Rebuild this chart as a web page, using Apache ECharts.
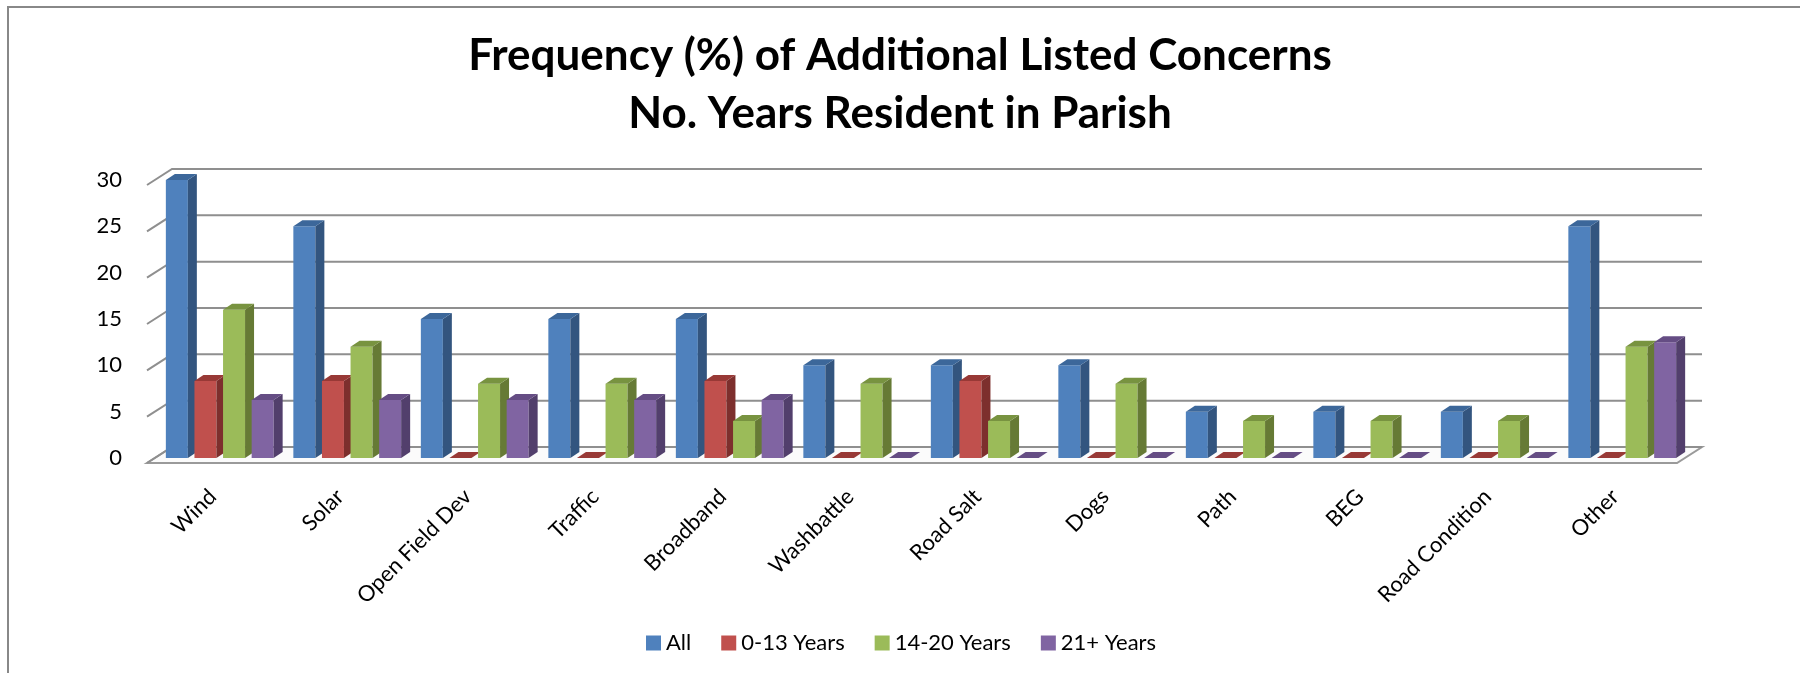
<!DOCTYPE html>
<html>
<head>
<meta charset="utf-8">
<script src="https://cdn.jsdelivr.net/npm/echarts@6/dist/echarts.min.js"></script>
<style>
  html, body { margin: 0; padding: 0; background: #fff; }
  #chart { width: 1800px; height: 673px; }
</style>
</head>
<body>
<div id="chart"></div>
<script>
var categories = ['Wind', 'Solar', 'Open Field Dev', 'Traffic', 'Broadband', 'Washbattle',
  'Road Salt', 'Dogs', 'Path', 'BEG', 'Road Condition', 'Other'];
var seriesNames = ['All', '0-13 Years', '14-20 Years', '21+ Years'];
var allValues = [30, 25, 15, 15, 15, 10, 10, 10, 5, 5, 5, 25];
var years0to13 = [8.3, 8.3, 0, 0, 8.3, 0, 8.3, 0, 0, 0, 0, 0];
var years14to20 = [16, 12, 8, 8, 4, 8, 4, 8, 4, 4, 4, 12];
var years21plus = [6.25, 6.25, 6.25, 6.25, 6.25, 0, 0, 0, 0, 0, 0, 12.5];
var yTicks = [0, 5, 10, 15, 20, 25, 30];

var seriesValues = [allValues, years0to13, years14to20, years21plus];

// front / side / top face colours, excel 2007 style
var faceColors = [
  { front: '#4F81BD', side: '#33557F', top: '#3C679A' },
  { front: '#C0504D', side: '#7D2F2D', top: '#983936' },
  { front: '#9BBB59', side: '#667A35', top: '#789340' },
  { front: '#8064A2', side: '#523F6C', top: '#654D84' }
];

var FONT = 'Lato, "Open Sans", sans-serif';
var BAR_W = 22;
var BAR_STEP = 28.6;
var DX = 9, DY = 6;          // bar depth
var WALL_F = [-9, 5];        // front edge offset from bar plane
var WALL_B = [16, -11];      // back wall offset from bar plane

var chart = echarts.init(document.getElementById('chart'));

function wallItem(params, api) {
  var cs = params.coordSys;
  var v = api.value(1);
  var y = api.coord([0, v])[1];
  var left = cs.x, right = cs.x + cs.width;
  var children = [];
  if (v === 0) {
    children.push({
      type: 'polygon',
      shape: { points: [
        [left + WALL_F[0], y + WALL_F[1]], [right + WALL_F[0], y + WALL_F[1]],
        [right + WALL_B[0], y + WALL_B[1]], [left + WALL_B[0], y + WALL_B[1]]
      ] },
      style: { fill: '#fbfbfb', stroke: '#9a9a9a', lineWidth: 2 }
    });
  }
  children.push({
    type: 'polyline',
    shape: { points: [
      [left + WALL_F[0], y + WALL_F[1]],
      [left + WALL_B[0], y + WALL_B[1]],
      [right + WALL_B[0], y + WALL_B[1]]
    ] },
    style: { fill: null, stroke: '#8f8f8f', lineWidth: 2 }
  });
  return { type: 'group', children: children };
}

function barItem(si) {
  var c = faceColors[si];
  return function (params, api) {
    var cat = api.value(0), v = api.value(1);
    var base = api.coord([cat, 0]);
    var top = api.coord([cat, v]);
    var x0 = base[0] + (si - 1.5) * BAR_STEP - BAR_W / 2;
    var yb = base[1], yt = top[1];
    var children = [];
    if (v > 0) {
      children.push({
        type: 'rect',
        shape: { x: x0, y: yt, width: BAR_W, height: yb - yt },
        style: { fill: c.front }
      });
      children.push({
        type: 'polygon',
        shape: { points: [[x0 + BAR_W, yb], [x0 + BAR_W, yt], [x0 + BAR_W + DX, yt - DY], [x0 + BAR_W + DX, yb - DY]] },
        style: { fill: c.side }
      });
    }
    children.push({
      type: 'polygon',
      shape: { points: [[x0, yt], [x0 + BAR_W, yt], [x0 + BAR_W + DX, yt - DY], [x0 + DX, yt - DY]] },
      style: { fill: c.top }
    });
    return { type: 'group', children: children };
  };
}

var series = [{
  name: 'walls',
  type: 'custom',
  renderItem: wallItem,
  silent: true,
  z: 1,
  data: yTicks.map(function (t) { return [0, t]; })
}];

seriesValues.forEach(function (vals, si) {
  series.push({
    name: seriesNames[si],
    type: 'custom',
    renderItem: barItem(si),
    z: 2,
    itemStyle: { color: faceColors[si].front },
    data: vals.map(function (v, i) { return [i, v]; })
  });
});

var option = {
  animation: false,
  color: faceColors.map(function (c) { return c.front; }),
  title: {
    text: 'Frequency (%) of Additional Listed Concerns\nNo. Years Resident in Parish',
    left: 'center',
    top: 22,
    textStyle: { fontFamily: FONT, fontWeight: 'bold', fontSize: 44, lineHeight: 58, color: '#000' }
  },
  graphic: [{
    type: 'rect',
    shape: { x: 8, y: 7, width: 1850, height: 720 },
    style: { fill: 'none', stroke: '#888', lineWidth: 2 },
    silent: true
  }],
  legend: {
    data: seriesNames,
    left: 641,
    top: 627,
    icon: 'rect',
    itemWidth: 15,
    itemHeight: 15,
    itemGap: 30,
    textStyle: { fontFamily: FONT, fontSize: 22, color: '#000' }
  },
  grid: { left: 156, right: 114, top: 180, bottom: 215 },
  xAxis: {
    type: 'category',
    data: categories,
    axisLine: { show: false },
    axisTick: { show: false },
    axisLabel: {
      interval: 0,
      rotate: 45,
      margin: 28,
      padding: [0, 10, 0, 0],
      fontFamily: FONT,
      fontSize: 22,
      color: '#000'
    }
  },
  yAxis: {
    type: 'value',
    min: 0,
    max: 30,
    interval: 5,
    axisLine: { show: false },
    axisTick: { show: false },
    splitLine: { show: false },
    axisLabel: {
      margin: 34,
      padding: [10, 0, 0, 0],
      fontFamily: FONT,
      fontSize: 22,
      color: '#000'
    }
  },
  series: series
};

chart.setOption(option);
</script>
</body>
</html>
